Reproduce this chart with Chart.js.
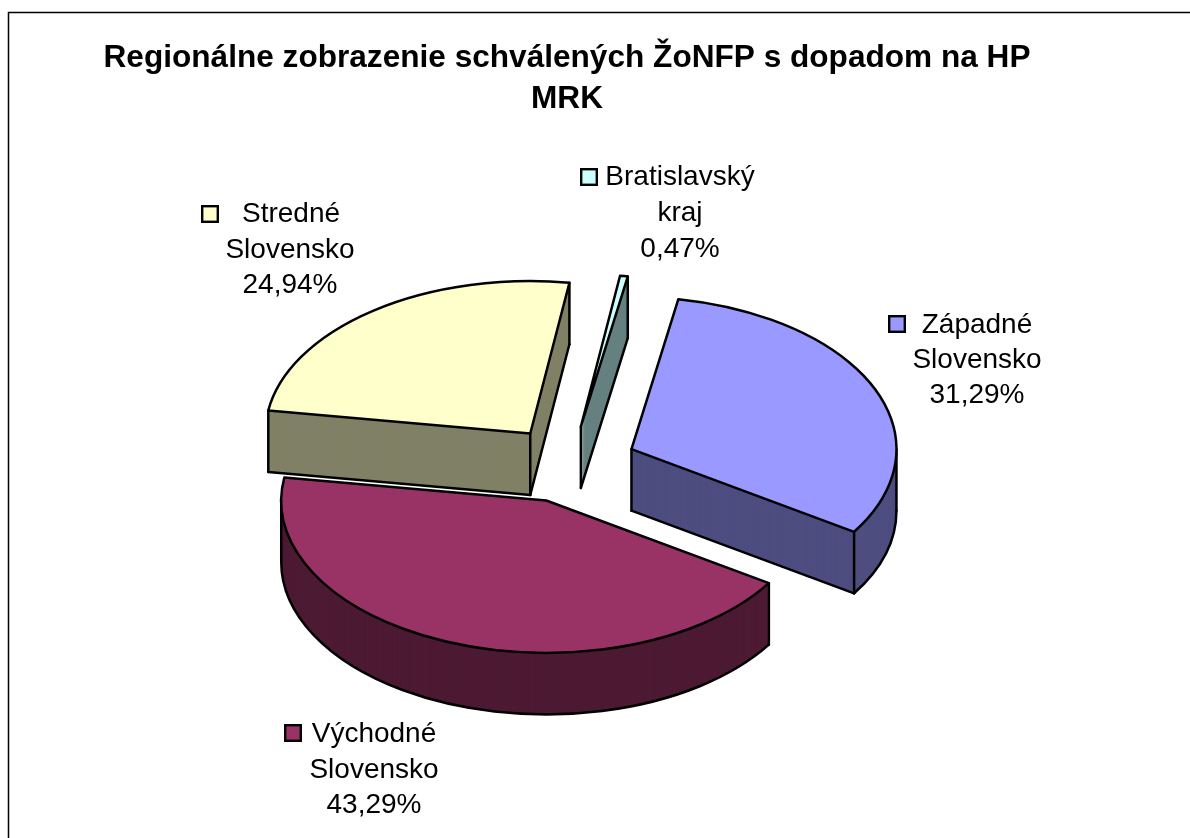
<!DOCTYPE html>
<html lang="sk">
<head>
<meta charset="utf-8">
<title>Regionálne zobrazenie schválených ŽoNFP</title>
<script src="https://cdn.jsdelivr.net/npm/chart.js@4"></script>
<style>
html,body{margin:0;padding:0;background:#fff;overflow:hidden}
canvas{display:block}
</style>
</head>
<body>
<canvas id="c" width="1190" height="838"></canvas>
<script>
// ---- data ----
const categories = ['Bratislavský kraj', 'Západné Slovensko', 'Východné Slovensko', 'Stredné Slovensko'];
const categoryLines = [['Bratislavský', 'kraj'], ['Západné', 'Slovensko'], ['Východné', 'Slovensko'], ['Stredné', 'Slovensko']];
const values = [0.47, 31.29, 43.29, 24.94];
const titleLines = ['Regionálne zobrazenie schválených ŽoNFP s dopadom na HP', 'MRK'];
const topColors = ['#CCFFFF', '#9999FF', '#993366', '#FFFFCC'];
const wallColors = ['#668080', '#4D4D80', '#4D1A33', '#808066'];

// ---- layout ----
const FONT = '"Liberation Sans", Arial, sans-serif';
const PIE_RADIUS = 265, TILT = 0.575, DEPTH = 61.5, EXPLODE = 67, CENTER_Y = 464.5, PIE_SHIFT_X = 3;
const START_DEG = 8.5;
const DRAW_ORDER = [0, 3, 1, 2];
// per-category label layout: text centre x, first baseline, legend key x/y
const labelX = [680, 977, 374, 290];
const labelY = [185, 333, 742, 222];
const labelStep = [36, 35, 35.5, 35.5];
const firstLineX = [680, 977, 374, 291];
const keyX = [581.2, 889.2, 285.2, 202.2];
const keyY = [169.2, 316.2, 725.2, 206.2];
const KEY_SIZE = 15.6;

let baseY = 0;
function screenY(y){ return CENTER_Y + (y - baseY) * TILT; }
function tiltTransform(ctx, dy){
  ctx.translate(0, CENTER_Y + dy);
  ctx.scale(1, TILT);
  ctx.translate(0, -baseY);
}
function strokeStyle(ctx){
  ctx.strokeStyle = '#000';
  ctx.lineWidth = 2.5;
  ctx.lineJoin = 'round';
  ctx.lineCap = 'round';
}
function rimPoint(el, a, dy){
  return [el.x + Math.cos(a) * el.outerRadius, screenY(el.y) + Math.sin(a) * el.outerRadius * TILT + dy];
}
function segment(ctx, p, q){
  ctx.beginPath(); ctx.moveTo(p[0], p[1]); ctx.lineTo(q[0], q[1]); ctx.stroke();
}

const pie3d = {
  id: 'pie3d',
  afterDatasetsUpdate(chart){
    const els = chart.getDatasetMeta(0).data;
    baseY = els[0].y;
    els.forEach(el => {
      const mid = (el.startAngle + el.endAngle) / 2;
      el.x += Math.cos(mid) * EXPLODE + PIE_SHIFT_X;
      el.y += Math.sin(mid) * EXPLODE;
    });
  },
  beforeDraw(chart){
    const ctx = chart.ctx;
    ctx.save();
    ctx.fillStyle = '#fff';
    ctx.fillRect(0, 0, chart.width, chart.height);
    ctx.strokeStyle = '#000';
    ctx.lineWidth = 1.5;
    ctx.beginPath();
    ctx.moveTo(8.5, chart.height);
    ctx.lineTo(8.5, 12.5);
    ctx.lineTo(chart.width, 12.5);
    ctx.stroke();
    ctx.restore();
  },
  beforeDatasetsDraw(chart){
    const ctx = chart.ctx;
    const els = chart.getDatasetMeta(0).data;
    DRAW_ORDER.forEach(i => {
      const el = els[i], saved = el.options;
      el.options = Object.assign({}, saved, {backgroundColor: wallColors[i], borderWidth: 0});
      for (let d = DEPTH; d >= 1; d--) {
        ctx.save();
        tiltTransform(ctx, d);
        el.draw(ctx);
        ctx.restore();
      }
      el.options = saved;

      const s = el.startAngle, e = el.endAngle;
      const tipY = screenY(el.y);
      ctx.save();
      strokeStyle(ctx);
      const startFace = Math.cos(s) < 0, endFace = Math.cos(e) > 0;
      if (startFace) segment(ctx, [el.x, tipY + DEPTH], rimPoint(el, s, DEPTH));
      if (endFace) segment(ctx, [el.x, tipY + DEPTH], rimPoint(el, e, DEPTH));
      const a0 = Math.max(s, 0), a1 = Math.min(e, Math.PI);
      if (a1 > a0) {
        ctx.beginPath();
        ctx.ellipse(el.x, tipY + DEPTH, el.outerRadius, el.outerRadius * TILT, 0, a0, a1);
        ctx.stroke();
      }
      if (startFace || endFace) segment(ctx, [el.x, tipY], [el.x, tipY + DEPTH]);
      if (startFace || Math.sin(s) > 0) segment(ctx, rimPoint(el, s, 0), rimPoint(el, s, DEPTH));
      if (endFace || Math.sin(e) > 0) segment(ctx, rimPoint(el, e, 0), rimPoint(el, e, DEPTH));
      [0, Math.PI].forEach(a => {
        if (a > s && a < e) segment(ctx, rimPoint(el, a, 0), rimPoint(el, a, DEPTH));
      });
      ctx.restore();
    });
    ctx.save();
    tiltTransform(ctx, 0);
  },
  afterDatasetsDraw(chart){
    const ctx = chart.ctx;
    ctx.restore();
    const els = chart.getDatasetMeta(0).data;
    ctx.save();
    strokeStyle(ctx);
    DRAW_ORDER.forEach(i => {
      const el = els[i], y = screenY(el.y);
      ctx.beginPath();
      ctx.moveTo(el.x, y);
      ctx.ellipse(el.x, y, el.outerRadius, el.outerRadius * TILT, 0, el.startAngle, el.endAngle);
      ctx.closePath();
      ctx.stroke();
    });
    ctx.restore();

    // data labels with legend keys
    ctx.save();
    ctx.font = '28px ' + FONT;
    ctx.fillStyle = '#000';
    ctx.textAlign = 'center';
    ctx.textBaseline = 'alphabetic';
    categories.forEach((name, i) => {
      const lines = categoryLines[i].concat(values[i].toFixed(2).replace('.', ',') + '%');
      lines.forEach((t, k) => {
        ctx.fillText(t, k === 0 ? firstLineX[i] : labelX[i], labelY[i] + k * labelStep[i]);
      });
      ctx.fillStyle = topColors[i];
      ctx.fillRect(keyX[i], keyY[i], KEY_SIZE, KEY_SIZE);
      ctx.strokeStyle = '#000';
      ctx.lineWidth = 2.4;
      ctx.strokeRect(keyX[i], keyY[i], KEY_SIZE, KEY_SIZE);
      ctx.fillStyle = '#000';
    });
    ctx.restore();
  }
};

new Chart(document.getElementById('c'), {
  type: 'pie',
  plugins: [pie3d],
  data: {
    labels: categories,
    datasets: [{
      data: values,
      backgroundColor: topColors,
      borderWidth: 0,
      clip: false
    }]
  },
  options: {
    responsive: false,
    animation: false,
    events: [],
    rotation: START_DEG,
    radius: PIE_RADIUS,
    layout: {padding: {left: 0, right: 56, top: 0, bottom: 0}},
    plugins: {
      legend: {display: false},
      tooltip: {enabled: false},
      title: {
        display: true,
        text: titleLines,
        color: '#000',
        font: {family: FONT, size: 31.6, weight: 'bold', lineHeight: 1.3},
        padding: {top: 38, bottom: 10}
      }
    }
  }
});
</script>
</body>
</html>
